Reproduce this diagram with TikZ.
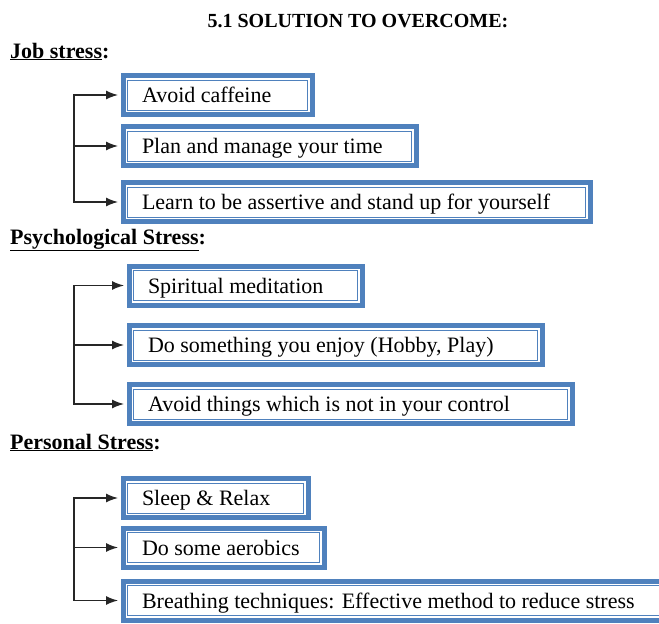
\documentclass[tikz,border=0pt]{standalone}
\usepackage{fontspec}
\setmainfont{Liberation Serif}
\usetikzlibrary{arrows.meta}
\definecolor{boxblue}{HTML}{4F81BD}

\begin{document}
\begin{tikzpicture}[x=1pt, y=-1pt,
    sol/.style = {draw=boxblue, line width=5pt, fill=white, anchor=west,
        inner xsep=19pt, inner ysep=0pt, minimum height=39pt, text height=15pt, text depth=0pt,
        font=\fontsize{22}{24}\selectfont,
        path picture={\draw[boxblue, line width=1pt]
            ([shift={(4.5pt,-4.5pt)}]path picture bounding box.north west) rectangle
            ([shift={(-4.5pt,4.5pt)}]path picture bounding box.south east);}},
    head/.style = {anchor=base west, inner sep=0pt, font=\fontsize{22}{24}\selectfont\bfseries},
    arr/.style = {line width=1.3pt, draw=black!85, shorten >=2.5pt},
    tip/.tip = {Latex[length=12pt, width=9pt]}]
    \useasboundingbox (0,0) rectangle (659,624);

    \node[head, anchor=base, font=\fontsize{20}{24}\selectfont\bfseries] (title) at (358,27) {5.1 SOLUTION TO OVERCOME:};

    % job stress
    \node[head] (job) at (10,58) {\underline{Job stress}:};
    \node[sol] (j1) at (120.5,95) {\makebox[151pt][l]{Avoid caffeine}};
    \node[sol] (j2) at (120.5,146) {\makebox[255pt][l]{Plan and manage your time}};
    \node[sol] (j3) at (120.5,202) {\makebox[429pt][l]{Learn to be assertive and stand up for yourself}};
    \coordinate (jb) at (74,0);
    \draw[arr, -tip] (jb |- j2.west) -- (j2.west);
    \draw[arr, tip-tip, shorten <=2.5pt] (j1.west) -| (jb |- j2.west) |- (j3.west);

    % psychological stress
    \node[head] (psy) at (10,244) {\underline{Psychological Stress}:};
    \node[sol] (p1) at (126.5,285.5) {\makebox[195pt][l]{Spiritual meditation}};
    \node[sol] (p2) at (126.5,345) {\makebox[375pt][l]{Do something you enjoy (Hobby, Play)}};
    \node[sol] (p3) at (126.5,404) {\makebox[405pt][l]{Avoid things which is not in your control}};
    \coordinate (pb) at (74,0);
    \draw[arr, -tip] (pb |- p2.west) -- (p2.west);
    \draw[arr, tip-tip, shorten <=2.5pt] (p1.west) -| (pb |- p2.west) |- (p3.west);

    % personal stress
    \node[head] (per) at (10,449) {\underline{Personal Stress}:};
    \node[sol] (s1) at (120.5,498) {\makebox[147pt][l]{Sleep \& Relax}};
    \node[sol] (s2) at (120.5,547.5) {\makebox[163pt][l]{Do some aerobics}};
    \node[sol] (s3) at (120.5,600.5) {\makebox[503pt][l]{Breathing techniques: Effective method to reduce stress}};
    \coordinate (sb) at (74,0);
    \draw[arr, -tip] (sb |- s2.west) -- (s2.west);
    \draw[arr, tip-tip, shorten <=2.5pt] (s1.west) -| (sb |- s2.west) |- (s3.west);
\end{tikzpicture}
\end{document}
